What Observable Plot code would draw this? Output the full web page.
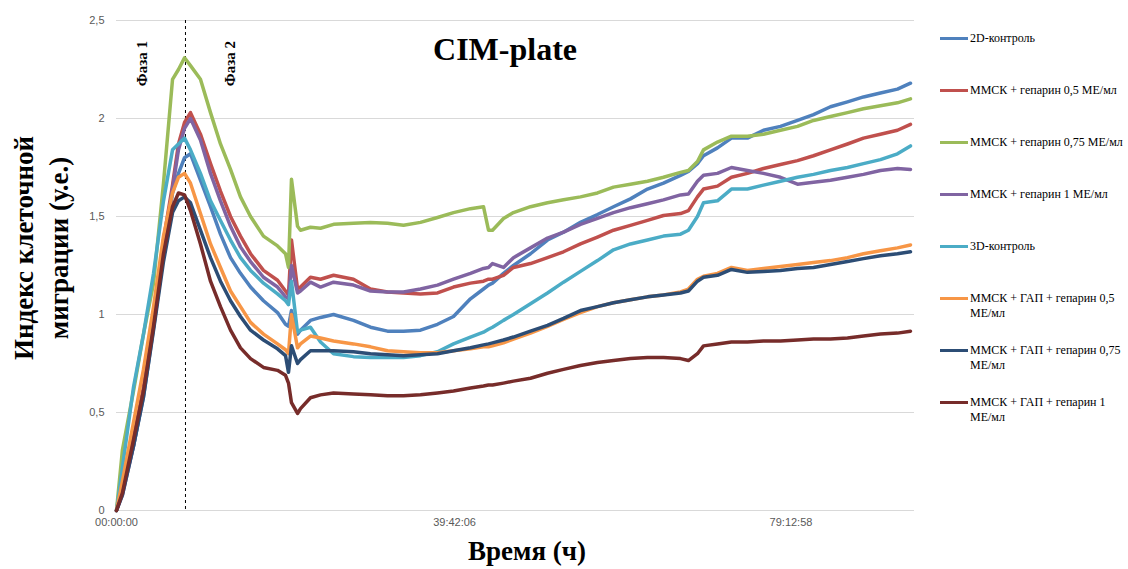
<!DOCTYPE html>
<html><head><meta charset="utf-8">
<script src="https://cdn.jsdelivr.net/npm/d3@7"></script>
<script src="https://cdn.jsdelivr.net/npm/@observablehq/plot@0.6"></script>
<style>
html,body{margin:0;padding:0;background:#fff;overflow:hidden;}
#wrap{position:relative;width:1128px;height:569px;overflow:hidden;}
#legend{position:absolute;left:940px;top:0;font-family:"Liberation Serif","Times New Roman",serif;font-size:12px;color:#000;}
.item{position:absolute;left:0;display:flex;align-items:flex-start;}
.swatch{width:28px;height:3px;margin-top:6px;margin-right:2px;flex:none;}
.label{width:156px;line-height:15px;}
.nw{white-space:nowrap;}
</style></head><body><div id="wrap"></div>
<script>
// time, hours
const hours = [0, 0.7, 2.0, 3.17, 4.35, 5.52, 6.58, 7.28, 7.99, 8.69, 9.86, 11.04, 12.21, 13.39, 14.56, 15.74, 17.26, 18.91, 19.85, 20.2, 20.55, 21.26, 21.61, 22.78, 23.96, 25.49, 27.83, 29.83, 31.83, 33.71, 35.7, 37.7, 39.58, 41.57, 43.1, 43.69, 44.16, 45.45, 46.62, 48.62, 50.62, 52.5, 54.49, 56.49, 58.37, 60.36, 62.36, 64.24, 66.24, 67.17, 68.23, 68.94, 70.58, 72.22, 74.1, 75.98, 77.98, 79.98, 81.86, 83.85, 85.85, 87.73, 89.72, 91.72, 93.25];

const control2D = [0, 0.10, 0.33, 0.58, 0.93, 1.30, 1.62, 1.72, 1.80, 1.82, 1.685, 1.55, 1.41, 1.29, 1.21, 1.14, 1.07, 1.01, 0.95, 0.94, 1.02, 0.90, 0.92, 0.97, 0.985, 1.00, 0.97, 0.935, 0.915, 0.915, 0.92, 0.95, 0.99, 1.08, 1.13, 1.15, 1.16, 1.21, 1.25, 1.31, 1.38, 1.42, 1.47, 1.51, 1.55, 1.59, 1.64, 1.67, 1.71, 1.73, 1.77, 1.81, 1.85, 1.90, 1.90, 1.94, 1.96, 1.99, 2.02, 2.06, 2.085, 2.11, 2.13, 2.15, 2.18];
const hep05 = [0, 0.10, 0.37, 0.63, 0.99, 1.38, 1.66, 1.87, 1.98, 2.03, 1.92, 1.77, 1.63, 1.50, 1.40, 1.31, 1.225, 1.175, 1.12, 1.10, 1.38, 1.13, 1.14, 1.19, 1.18, 1.20, 1.18, 1.13, 1.115, 1.11, 1.105, 1.11, 1.14, 1.16, 1.17, 1.18, 1.18, 1.20, 1.24, 1.26, 1.29, 1.32, 1.36, 1.395, 1.43, 1.455, 1.48, 1.505, 1.515, 1.53, 1.60, 1.64, 1.655, 1.70, 1.72, 1.745, 1.765, 1.785, 1.81, 1.84, 1.87, 1.90, 1.92, 1.94, 1.97];
const hep075 = [0, 0.31, 0.61, 0.90, 1.16, 1.67, 2.20, 2.25, 2.31, 2.27, 2.20, 2.03, 1.87, 1.74, 1.60, 1.50, 1.40, 1.35, 1.31, 1.24, 1.69, 1.45, 1.43, 1.445, 1.44, 1.46, 1.465, 1.47, 1.465, 1.455, 1.47, 1.495, 1.52, 1.54, 1.55, 1.43, 1.43, 1.49, 1.52, 1.55, 1.57, 1.585, 1.60, 1.62, 1.65, 1.665, 1.68, 1.70, 1.725, 1.735, 1.78, 1.84, 1.88, 1.91, 1.91, 1.92, 1.94, 1.96, 1.99, 2.01, 2.03, 2.05, 2.065, 2.08, 2.10];
const hep1 = [0, 0.08, 0.33, 0.60, 0.95, 1.34, 1.64, 1.84, 1.95, 2.00, 1.89, 1.72, 1.58, 1.45, 1.345, 1.27, 1.19, 1.14, 1.09, 1.08, 1.25, 1.11, 1.12, 1.165, 1.14, 1.165, 1.15, 1.12, 1.115, 1.115, 1.13, 1.15, 1.18, 1.21, 1.235, 1.24, 1.26, 1.24, 1.29, 1.34, 1.39, 1.42, 1.46, 1.49, 1.52, 1.545, 1.565, 1.585, 1.61, 1.615, 1.68, 1.71, 1.72, 1.75, 1.735, 1.72, 1.70, 1.665, 1.675, 1.685, 1.70, 1.715, 1.735, 1.745, 1.74];
const control3D = [0, 0.22, 0.63, 0.90, 1.21, 1.58, 1.84, 1.87, 1.90, 1.84, 1.72, 1.58, 1.48, 1.38, 1.29, 1.225, 1.16, 1.105, 1.07, 1.05, 1.17, 0.91, 0.92, 0.935, 0.86, 0.80, 0.785, 0.78, 0.78, 0.78, 0.79, 0.81, 0.85, 0.885, 0.91, 0.925, 0.935, 0.97, 1.00, 1.055, 1.11, 1.165, 1.22, 1.275, 1.33, 1.36, 1.38, 1.40, 1.41, 1.43, 1.50, 1.57, 1.58, 1.64, 1.64, 1.66, 1.68, 1.70, 1.715, 1.735, 1.75, 1.77, 1.79, 1.82, 1.86];
const gapHep05 = [0, 0.15, 0.45, 0.72, 1.04, 1.40, 1.62, 1.70, 1.72, 1.67, 1.515, 1.36, 1.24, 1.12, 1.04, 0.96, 0.90, 0.85, 0.82, 0.80, 1.00, 0.83, 0.85, 0.89, 0.88, 0.865, 0.85, 0.835, 0.815, 0.81, 0.805, 0.805, 0.815, 0.825, 0.835, 0.835, 0.84, 0.855, 0.875, 0.905, 0.94, 0.975, 1.01, 1.04, 1.06, 1.075, 1.09, 1.10, 1.115, 1.13, 1.18, 1.195, 1.21, 1.24, 1.225, 1.235, 1.245, 1.255, 1.265, 1.275, 1.29, 1.31, 1.325, 1.34, 1.355];
const gapHep075 = [0, 0.08, 0.33, 0.58, 0.92, 1.27, 1.52, 1.58, 1.60, 1.57, 1.43, 1.29, 1.17, 1.07, 0.99, 0.92, 0.87, 0.825, 0.79, 0.705, 0.84, 0.75, 0.77, 0.815, 0.815, 0.815, 0.81, 0.80, 0.795, 0.79, 0.795, 0.80, 0.815, 0.83, 0.845, 0.85, 0.855, 0.87, 0.885, 0.915, 0.945, 0.98, 1.02, 1.04, 1.06, 1.075, 1.09, 1.10, 1.11, 1.12, 1.17, 1.19, 1.20, 1.23, 1.215, 1.22, 1.225, 1.235, 1.24, 1.255, 1.27, 1.285, 1.30, 1.31, 1.32];
const gapHep1 = [0, 0.09, 0.36, 0.61, 0.94, 1.31, 1.55, 1.62, 1.61, 1.53, 1.36, 1.17, 1.04, 0.92, 0.83, 0.775, 0.73, 0.715, 0.69, 0.65, 0.55, 0.495, 0.52, 0.575, 0.59, 0.60, 0.595, 0.59, 0.585, 0.585, 0.59, 0.60, 0.61, 0.625, 0.635, 0.64, 0.64, 0.65, 0.66, 0.675, 0.70, 0.72, 0.74, 0.755, 0.765, 0.775, 0.78, 0.78, 0.775, 0.765, 0.80, 0.84, 0.85, 0.86, 0.86, 0.865, 0.865, 0.87, 0.875, 0.875, 0.88, 0.89, 0.90, 0.905, 0.915];

const seriesNames = ["2D-контроль", "ММСК + гепарин 0,5 МЕ/мл", "ММСК + гепарин 0,75 МЕ/мл", "ММСК + гепарин 1 МЕ/мл", "3D-контроль", "ММСК + ГАП + гепарин 0,5 МЕ/мл", "ММСК + ГАП + гепарин 0,75 МЕ/мл", "ММСК + ГАП + гепарин 1 МЕ/мл"];
const seriesValues = [control2D, hep05, hep075, hep1, control3D, gapHep05, gapHep075, gapHep1];
const seriesColors = ["#4F81BD", "#C0504D", "#9BBB59", "#8064A2", "#4BACC6", "#F79646", "#2C4D75", "#772C2A"];

const yTicks = [0, 0.5, 1, 1.5, 2, 2.5];
const xTickHours = [0, 39.70167, 79.21611];
const xTickLabels = ["00:00:00", "39:42:06", "79:12:58"];

const phaseBoundary = 8.1;
const phaseNames = ["Фаза 1", "Фаза 2"];
const phaseHours = [3.05, 13.4];
const phaseLevel = 2.28;

const chartTitle = "CIM-plate";
const xTitle = "Время (ч)";
const yTitleLines = ["Индекс клеточной", "миграции (у.е.)"];

const rows = [];
seriesNames.forEach((name, s) => {
  hours.forEach((t, i) => rows.push({name, t, v: seriesValues[s][i]}));
});
const phases = phaseNames.map((p, i) => ({p, t: phaseHours[i], v: phaseLevel}));

const chart = Plot.plot({
  width: 1128, height: 569,
  marginLeft: 116, marginRight: 214, marginTop: 20, marginBottom: 59,
  style: {fontFamily: "'Liberation Sans', Arial, sans-serif", fontSize: "11px", color: "#595959", background: "#fff"},
  x: {domain: [0, 93.72], ticks: xTickHours, tickFormat: d => xTickLabels[xTickHours.indexOf(d)], tickSize: 0, tickPadding: 8, label: null},
  y: {domain: [0, 2.5], ticks: yTicks, tickFormat: d => String(d).replace(".", ","), tickSize: 0, tickPadding: 12, label: null},
  color: {domain: seriesNames, range: seriesColors},
  marks: [
    Plot.ruleY(yTicks, {stroke: "#d9d9d9", strokeWidth: 1}),
    Plot.ruleX([phaseBoundary], {stroke: "#000", strokeWidth: 1, strokeDasharray: "3,3"}),
    Plot.text(phases, {x: "t", y: "v", text: "p", rotate: -90, fill: "#000", fontFamily: "'Liberation Serif', 'Times New Roman', serif", fontWeight: "bold", fontSize: 15}),
    Plot.line(rows, {x: "t", y: "v", z: "name", stroke: "name", strokeWidth: 3.5, strokeLinejoin: "round", strokeLinecap: "round"})
  ]
});
document.getElementById("wrap").appendChild(chart);

const svg = d3.select(chart);
const serif = "'Liberation Serif', 'Times New Roman', serif";
svg.append("text").attr("x", 505).attr("y", 60).attr("text-anchor", "middle")
  .attr("fill", "#000").style("font-family", serif).style("font-weight", "bold").style("font-size", "32px").text(chartTitle);
svg.append("text").attr("x", 527).attr("y", 560).attr("text-anchor", "middle")
  .attr("fill", "#000").style("font-family", serif).style("font-weight", "bold").style("font-size", "27px").text(xTitle);
[33, 68].forEach((bx, i) => {
  svg.append("text").attr("transform", `translate(${bx},248) rotate(-90)`).attr("text-anchor", "middle")
    .attr("fill", "#000").style("font-family", serif).style("font-weight", "bold").style("font-size", "27px").text(yTitleLines[i]);
});

const legend = d3.select("#wrap").append("div").attr("id", "legend");
seriesNames.forEach((name, i) => {
  const item = legend.append("div").attr("class", "item").style("top", (30.5 + 52.1 * i) + "px");
  item.append("div").attr("class", "swatch").style("background", seriesColors[i]);
  const label = item.append("div").attr("class", "label");
  const cut = name.lastIndexOf(" ");
  if (name.endsWith("МЕ/мл")) {
    label.append("span").text(name.slice(0, cut) + " ");
    label.append("span").attr("class", "nw").text(name.slice(cut + 1));
  } else {
    label.text(name);
  }
});
</script></body></html>
